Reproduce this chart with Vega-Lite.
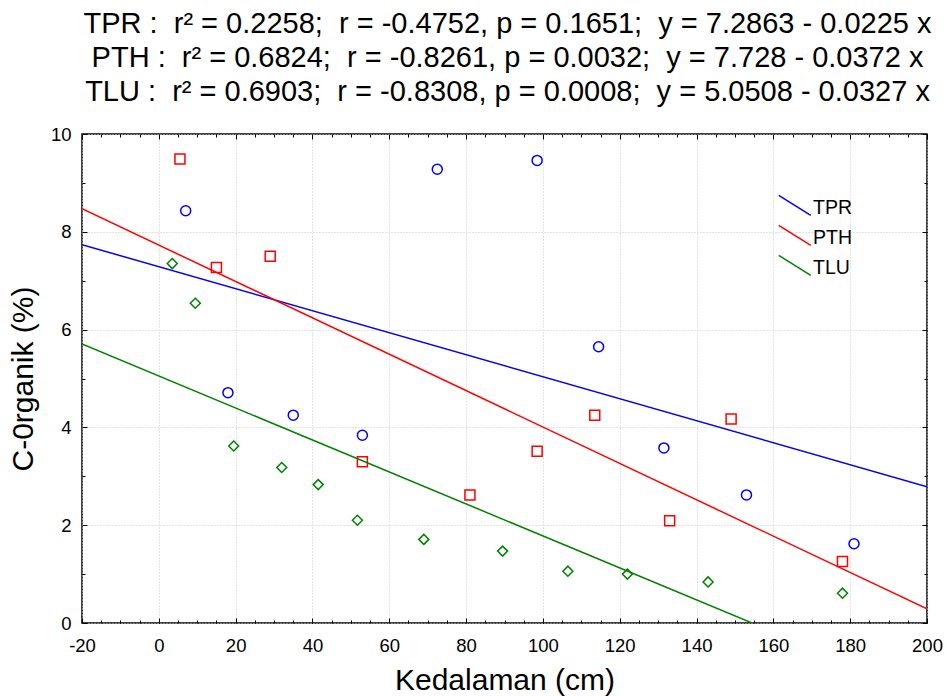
{
  "$schema": "https://vega.github.io/schema/vega-lite/v6.json",
  "width": 845,
  "height": 489,
  "autosize": "none",
  "padding": {"left": 82, "top": 134, "right": 20, "bottom": 73},
  "background": "white",
  "config": {
    "font": "Liberation Sans",
    "view": {"stroke": "#000000", "strokeWidth": 1.5},
    "axis": {"domain": false, "tickColor": "#000000", "labelColor": "#000000", "titleColor": "#000000", "labelFont": "Liberation Sans", "titleFont": "Liberation Sans", "labelFontSize": 18.5, "titleFontSize": 30, "titleFontWeight": "normal", "gridColor": "#c8c8c8", "gridDash": [1, 2], "gridWidth": 1}
  },
  "title": {
    "text": ["TPR :\u00a0 r² = 0.2258;\u00a0 r = -0.4752, p = 0.1651;\u00a0 y = 7.2863 - 0.0225 x", "PTH :\u00a0 r² = 0.6824;\u00a0 r = -0.8261, p = 0.0032;\u00a0 y = 7.728 - 0.0372 x", "TLU :\u00a0 r² = 0.6903;\u00a0 r = -0.8308, p = 0.0008;\u00a0 y = 5.0508 - 0.0327 x"],
    "font": "Liberation Sans",
    "fontSize": 29,
    "fontWeight": "normal",
    "color": "#000000",
    "lineHeight": 34,
    "anchor": "middle",
    "dx": 3,
    "offset": 18
  },
  "datasets": {
    "pts": [
      {"series": "TPR", "x": 7, "y": 8.43},
      {"series": "TPR", "x": 18, "y": 4.71},
      {"series": "TPR", "x": 35, "y": 4.25},
      {"series": "TPR", "x": 53, "y": 3.84},
      {"series": "TPR", "x": 72.5, "y": 9.28},
      {"series": "TPR", "x": 98.5, "y": 9.46},
      {"series": "TPR", "x": 114.5, "y": 5.65},
      {"series": "TPR", "x": 131.5, "y": 3.58},
      {"series": "TPR", "x": 153, "y": 2.62},
      {"series": "TPR", "x": 181, "y": 1.62},
      {"series": "PTH", "x": 5.5, "y": 9.49},
      {"series": "PTH", "x": 15, "y": 7.27},
      {"series": "PTH", "x": 29, "y": 7.5},
      {"series": "PTH", "x": 53, "y": 3.3},
      {"series": "PTH", "x": 81, "y": 2.62},
      {"series": "PTH", "x": 98.5, "y": 3.51},
      {"series": "PTH", "x": 113.5, "y": 4.25},
      {"series": "PTH", "x": 133, "y": 2.09},
      {"series": "PTH", "x": 149, "y": 4.17},
      {"series": "PTH", "x": 178, "y": 1.26},
      {"series": "TLU", "x": 3.5, "y": 7.35},
      {"series": "TLU", "x": 9.5, "y": 6.54},
      {"series": "TLU", "x": 19.5, "y": 3.62},
      {"series": "TLU", "x": 32, "y": 3.18},
      {"series": "TLU", "x": 41.5, "y": 2.83},
      {"series": "TLU", "x": 51.7, "y": 2.1},
      {"series": "TLU", "x": 69, "y": 1.71},
      {"series": "TLU", "x": 89.5, "y": 1.47},
      {"series": "TLU", "x": 106.5, "y": 1.06},
      {"series": "TLU", "x": 122, "y": 1.0},
      {"series": "TLU", "x": 143, "y": 0.84},
      {"series": "TLU", "x": 178, "y": 0.61}
    ],
    "fit": [
      {"series": "TPR", "x": -20, "y": 7.7363},
      {"series": "TPR", "x": 200, "y": 2.7863},
      {"series": "PTH", "x": -20, "y": 8.472},
      {"series": "PTH", "x": 200, "y": 0.288},
      {"series": "TLU", "x": -20, "y": 5.7048},
      {"series": "TLU", "x": 200, "y": -1.4892}
    ]
  },
  "resolve": {"axis": {"x": "independent", "y": "independent"}, "legend": {"color": "independent", "shape": "independent"}},
  "layer": [
    {
      "data": {"name": "pts"},
      "mark": {"type": "point", "filled": false, "strokeWidth": 1.5, "size": 100, "opacity": 1},
      "encoding": {
        "x": {"field": "x", "type": "quantitative", "scale": {"domain": [-20, 200], "nice": false, "zero": false},
          "axis": {"orient": "bottom", "title": "Kedalaman (cm)", "values": [-20,-15,-10,-5,0,5,10,15,20,25,30,35,40,45,50,55,60,65,70,75,80,85,90,95,100,105,110,115,120,125,130,135,140,145,150,155,160,165,170,175,180,185,190,195,200],
            "labelExpr": "datum.value % 20 === 0 ? '' + datum.value : ''",
            "tickSize": {"condition": {"test": "datum.value % 20 === 0", "value": -5}, "value": -3},
            "gridOpacity": {"condition": {"test": "datum.value % 20 === 0", "value": 1}, "value": 0},
            "grid": true, "labelPadding": 18.5, "titlePadding": 10, "labelFlush": false}},
        "y": {"field": "y", "type": "quantitative", "scale": {"domain": [0, 10], "nice": false},
          "axis": {"orient": "left", "title": "C-0rganik (%)", "values": [0,1,2,3,4,5,6,7,8,9,10],
            "labelExpr": "datum.value % 2 === 0 ? '' + datum.value : ''",
            "tickSize": {"condition": {"test": "datum.value % 2 === 0", "value": -5}, "value": -3},
            "gridOpacity": {"condition": {"test": "datum.value % 2 === 0", "value": 1}, "value": 0},
            "grid": true, "labelPadding": 16, "titlePadding": 12, "labelFlush": false}},
        "color": {"field": "series", "type": "nominal", "scale": {"domain": ["TPR", "PTH", "TLU"], "range": ["#0000ff", "#ff0000", "#008000"]}, "legend": null},
        "shape": {"field": "series", "type": "nominal", "scale": {"domain": ["TPR", "PTH", "TLU"], "range": ["circle", "square", "diamond"]}, "legend": null}
      }
    },
    {
      "data": {"name": "fit"},
      "mark": {"type": "line", "strokeWidth": 1.5, "clip": true},
      "encoding": {
        "x": {"field": "x", "type": "quantitative",
          "axis": {"orient": "top", "title": null, "labels": false, "grid": false, "values": [-20,-15,-10,-5,0,5,10,15,20,25,30,35,40,45,50,55,60,65,70,75,80,85,90,95,100,105,110,115,120,125,130,135,140,145,150,155,160,165,170,175,180,185,190,195,200],
            "tickSize": {"condition": {"test": "datum.value % 20 === 0", "value": -5}, "value": -3}}},
        "y": {"field": "y", "type": "quantitative",
          "axis": {"orient": "right", "title": null, "labels": false, "grid": false, "values": [0,1,2,3,4,5,6,7,8,9,10],
            "tickSize": {"condition": {"test": "datum.value % 2 === 0", "value": -5}, "value": -3}}},
        "color": {"field": "series", "type": "nominal", "scale": {"domain": ["TPR", "PTH", "TLU"], "range": ["#0000ff", "#ff0000", "#008000"]},
          "legend": {"orient": "none", "legendX": 703, "legendY": 64.5, "title": null, "symbolType": "M-2,-1.6L2,0.9", "symbolSize": 256, "symbolStrokeWidth": 1.5, "symbolFillColor": "transparent", "labelFont": "Liberation Sans", "labelFontSize": 19.5, "labelColor": "#000000", "labelOffset": 8.5, "rowPadding": 3}}
      }
    }
  ]
}
